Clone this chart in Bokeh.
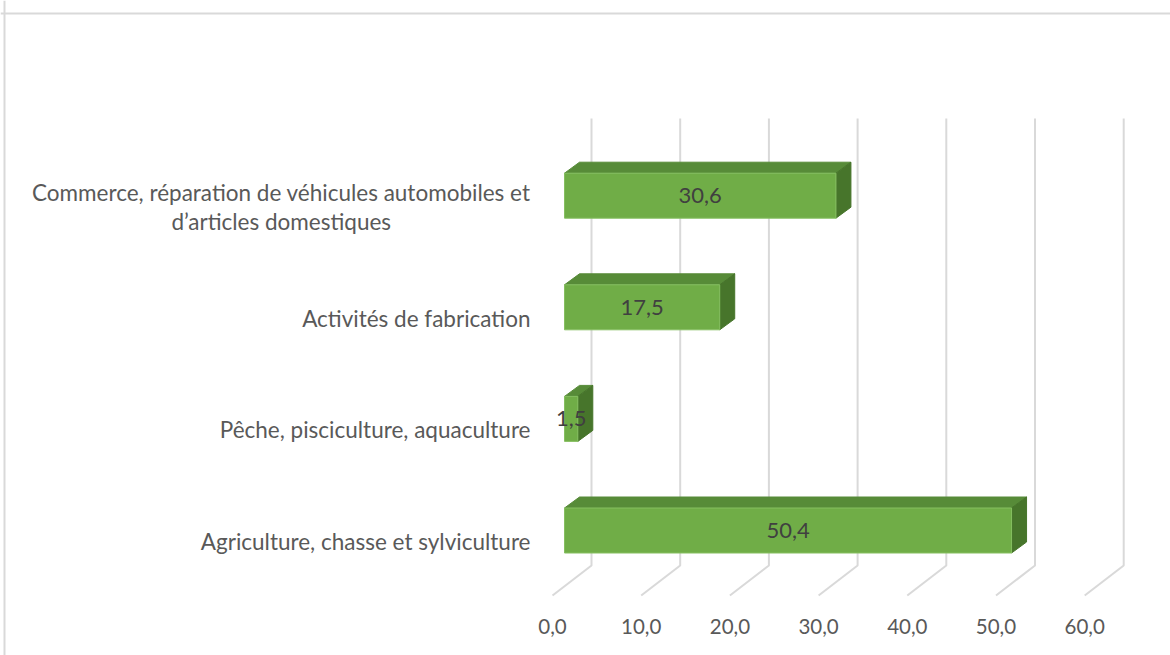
from bokeh.plotting import figure
from bokeh.models import Range1d, ColumnDataSource, Span
from bokeh.core.properties import value
from bokeh.embed import file_html
from bokeh.resources import INLINE

# ---------------- data ----------------
categories = [
    "Agriculture, chasse et sylviculture",
    "Pêche, pisciculture, aquaculture",
    "Activités de fabrication",
    "Commerce, réparation de véhicules automobiles et\nd\u2019articles domestiques",
]
values = [50.4, 1.5, 17.5, 30.6]
tick_values = [0, 10, 20, 30, 40, 50, 60]
tick_labels = ["0,0", "10,0", "20,0", "30,0", "40,0", "50,0", "60,0"]

# ---------------- layout (pixels) ----------------
W, H = 1170, 655
PXU = 8.87      # px per value unit
PYU = 111.6     # px per category step
X0 = 564        # px (from left) of value 0 on bar front plane
Y0 = 530        # px (from top) of first category centre

def ux(px):  # horizontal px -> data units
    return px / PXU

def uy(px_up):  # vertical px (upward) -> data units
    return px_up / PYU

FONT = value("Lato")
FRONT = "#70ad47"
TOP = "#578b38"
SIDE = "#47752b"
GRID = "#d9d9d9"

p = figure(width=W, height=H, output_backend="svg", toolbar_location=None,
           x_range=Range1d(-ux(X0), ux(W - X0)),
           y_range=Range1d(-uy(H - Y0), uy(Y0)),
           min_border=0, x_axis_type=None, y_axis_type=None)
p.grid.visible = False
p.outline_line_color = None
p.background_fill_color = "white"
p.border_fill_color = "white"

# chart area border (top / left)
p.add_layout(Span(location=uy(Y0 - 13), dimension="width", line_color=GRID, line_width=2))
p.add_layout(Span(location=ux(4 - X0), dimension="height", line_color=GRID, line_width=2))

# gridlines: back wall + floor
wall_dx = ux(27)
floor_dx = ux(-12)
y_top = uy(Y0 - 118)
y_back = uy(Y0 - 565)
y_front = uy(Y0 - 595)
gxs = [[t + wall_dx, t + wall_dx, t + floor_dx] for t in tick_values]
gys = [[y_top, y_back, y_front] for _ in tick_values]
p.multi_line(gxs, gys, line_color=GRID, line_width=2)

# bars (3D)
half = uy(22.5)
ddx, ddy = ux(15), uy(11)
ypos = list(range(len(categories)))
front = ColumnDataSource(dict(left=[0] * len(values), right=values,
                              bottom=[y - half for y in ypos], top=[y + half for y in ypos]))
top_xs, top_ys, side_xs, side_ys = [], [], [], []
for v, y in zip(values, ypos):
    t, b = y + half, y - half
    top_xs.append([0, v, v + ddx, ddx])
    top_ys.append([t, t, t + ddy, t + ddy])
    side_xs.append([v, v, v + ddx, v + ddx])
    side_ys.append([b, t, t + ddy, b + ddy])
p.patches(top_xs, top_ys, fill_color=TOP, line_color=TOP, line_width=1)
p.patches(side_xs, side_ys, fill_color=SIDE, line_color=SIDE, line_width=1)
p.quad(left="left", right="right", bottom="bottom", top="top", source=front,
       fill_color=FRONT, line_color="#86bf61", line_width=1)

# value labels
vlabels = [f"{v:.1f}".replace(".", ",") for v in values]
p.text([v / 2 for v in values], ypos, text=vlabels, text_font=FONT, text_font_size="22px",
       text_color="#404040", text_align="center", text_baseline="middle")

# category labels
p.text([ux(530 - X0)] * len(categories), [y - uy(11) for y in ypos], text=categories,
       text_font=FONT, text_font_size="22.5px", text_color="#595959",
       text_align="center", anchor="center_right", text_baseline="middle",
       text_line_height=1.08)

# x tick labels
p.text([t + floor_dx for t in tick_values], [uy(Y0 - 626)] * len(tick_values), text=tick_labels,
       text_font=FONT, text_font_size="20.5px", text_color="#595959",
       text_align="center", text_baseline="middle")

open("out.html", "w").write(file_html(p, INLINE))
